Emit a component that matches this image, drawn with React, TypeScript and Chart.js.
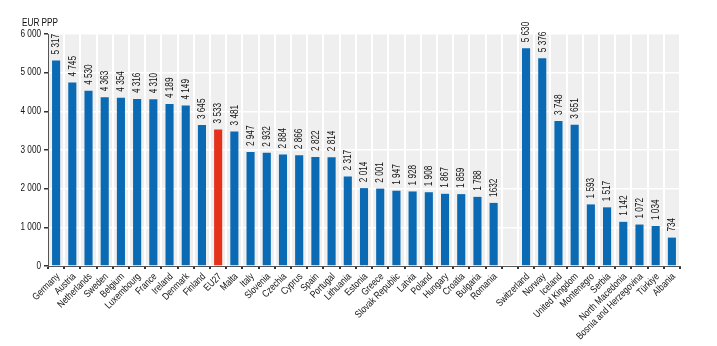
import React, { useEffect, useRef } from "react";
import { Chart, registerables } from "chart.js";

Chart.register(...registerables);

const categories: string[] = [
  "Germany", "Austria", "Netherlands", "Sweden", "Belgium", "Luxembourg", "France", "Ireland", "Denmark", "Finland",
  "EU27", "Malta", "Italy", "Slovenia", "Czechia", "Cyprus", "Spain", "Portugal", "Lithuania", "Estonia",
  "Greece", "Slovak Republic", "Latvia", "Poland", "Hungary", "Croatia", "Bulgaria", "Romania", "",
  "Switzerland", "Norway", "Iceland", "United Kingdom", "Montenegro", "Serbia", "North Macedonia",
  "Bosnia and Herzegovina", "Türkiye", "Albania",
];

const values: (number | null)[] = [
  5317, 4745, 4530, 4363, 4354, 4316, 4310, 4189, 4149, 3645,
  3533, 3481, 2947, 2932, 2884, 2866, 2822, 2814, 2317, 2014,
  2001, 1947, 1928, 1908, 1867, 1859, 1788, 1632, null,
  5630, 5376, 3748, 3651, 1593, 1517, 1142, 1072, 1034, 734,
];

const valueLabels: string[] = [
  "5 317", "4 745", "4 530", "4 363", "4 354", "4 316", "4 310", "4 189", "4 149", "3 645",
  "3 533", "3 481", "2 947", "2 932", "2 884", "2 866", "2 822", "2 814", "2 317", "2 014",
  "2 001", "1 947", "1 928", "1 908", "1 867", "1 859", "1 788", "1632", "",
  "5 630", "5 376", "3 748", "3 651", "1 593", "1 517", "1 142", "1 072", "1 034", "734",
];

const highlight = "EU27";
const yTickLabels: Record<number, string> = { 0: "0", 1000: "1 000", 2000: "2 000", 3000: "3 000", 4000: "4 000", 5000: "5 000", 6000: "6 000" };
const yTitle = "EUR PPP";

const BLUE = "#0a6ab4";
const RED = "#e4321b";
const FONT = "'Liberation Sans', Arial, sans-serif";
const SQUEEZE = 0.82;

export default function App() {
  const ref = useRef<HTMLCanvasElement | null>(null);
  useEffect(() => {
    if (!ref.current) return;
    const bgPlugin = {
      id: "bg",
      beforeDraw(chart: any) {
        const { ctx, chartArea } = chart;
        ctx.save();
        ctx.fillStyle = "#efefef";
        ctx.fillRect(chartArea.left, chartArea.top, chartArea.right - chartArea.left, chartArea.bottom - chartArea.top);
        ctx.restore();
      },
    };
    const textPlugin = {
      id: "texts",
      afterDraw(chart: any) {
        const { ctx, chartArea } = chart;
        const meta = chart.getDatasetMeta(0);
        const xs = chart.scales.x;
        const ys = chart.scales.y;
        ctx.save();
        ctx.fillStyle = "#111";
        ctx.font = `10px ${FONT}`;
        ctx.textAlign = "left";
        ctx.textBaseline = "middle";
        meta.data.forEach((el: any, i: number) => {
          if (values[i] == null) return;
          ctx.save();
          ctx.translate(el.x + 0.5, el.y - 6);
          ctx.rotate(-Math.PI / 2);
          ctx.scale(SQUEEZE, 1);
          ctx.fillText(valueLabels[i], 0, 0);
          ctx.restore();
        });
        ctx.textAlign = "right";
        ctx.textBaseline = "middle";
        categories.forEach((c, i) => {
          if (!c) return;
          const x = xs.getPixelForTick(i);
          ctx.save();
          ctx.translate(x + 2, chartArea.bottom + 9);
          ctx.rotate(-Math.PI / 4);
          ctx.scale(SQUEEZE, 1);
          ctx.fillText(c, 0, 0);
          ctx.restore();
        });
        ctx.textAlign = "right";
        ctx.textBaseline = "middle";
        Object.keys(yTickLabels).forEach((k) => {
          const v = Number(k);
          const y = ys.getPixelForValue(v);
          ctx.save();
          ctx.translate(chartArea.left - 7, y);
          ctx.scale(SQUEEZE, 1);
          ctx.fillText(yTickLabels[v], 0, 0);
          ctx.restore();
        });
        ctx.textAlign = "left";
        ctx.save();
        ctx.translate(22, 23);
        ctx.scale(SQUEEZE, 1);
        ctx.fillText(yTitle, 0, 0);
        ctx.restore();
        ctx.restore();
      },
    };
    const chart = new Chart(ref.current, {
      type: "bar",
      data: {
        labels: categories,
        datasets: [
          {
            data: values as any,
            backgroundColor: categories.map((c) => (c === highlight ? RED : BLUE)),
            barPercentage: 0.5,
            categoryPercentage: 1,
          },
        ],
      },
      options: {
        animation: false,
        responsive: false,
        maintainAspectRatio: false,
        layout: { padding: { top: 34, right: 37, left: 0, bottom: 0 } },
        plugins: { legend: { display: false }, tooltip: { enabled: false } },
        scales: {
          x: {
            offset: true,
            grid: { offset: true, color: "#ffffff", lineWidth: 2, tickColor: "#333", tickLength: 3, drawTicks: true },
            border: { color: "#555", width: 1 },
            ticks: {
              autoSkip: false,
              maxRotation: 45,
              minRotation: 45,
              padding: 0,
              color: "rgba(0,0,0,0)",
              font: { family: FONT, size: 9 },
            },
            afterFit(scale: any) {
              scale.height = 80;
            },
          },
          y: {
            min: 0,
            max: 6000,
            ticks: {
              stepSize: 1000,
              padding: 4,
              color: "rgba(0,0,0,0)",
              font: { family: FONT, size: 10 },
            },
            grid: { color: "#ffffff", lineWidth: 1.5, tickColor: "#333", tickLength: 4 },
            border: { color: "#555", width: 1 },
            afterFit(scale: any) {
              scale.width = 48;
            },
          },
        },
      },
      plugins: [bgPlugin, textPlugin],
    });
    return () => chart.destroy();
  }, []);
  return (
    <div style={{ position: "absolute", left: 0, top: 0, width: 717, height: 346, background: "#fff" }}>
      <canvas ref={ref} width={717} height={346} style={{ width: 717, height: 346 }} />
    </div>
  );
}
